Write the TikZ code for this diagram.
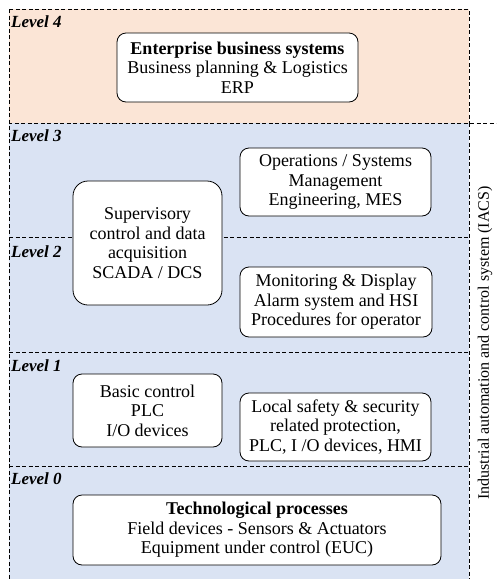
\documentclass[tikz,border=0pt]{standalone}
\usepackage{fontspec}
\setmainfont{Liberation Serif}
\usepackage{xcolor}
\usepackage{tikz}
\definecolor{lvlfour}{HTML}{FBE5D6}
\definecolor{lvlblue}{HTML}{DAE3F3}
\tikzset{
  lvlline/.style={line width=0.8pt,dash pattern=on 4pt off 2.5pt},
  sysbox/.style={draw,fill=white,line width=0.8pt,rounded corners=9pt,align=center,
    inner sep=2pt,font=\fontsize{18}{19.5}\selectfont},
  lvllabel/.style={anchor=west,inner sep=0pt,font=\fontsize{17}{19}\selectfont\bfseries\itshape}
}

\begin{document}
\begin{tikzpicture}[x=1pt,y=-1pt]
          \useasboundingbox (0,0) rectangle (496,579);
          \clip (0,0) rectangle (496,579);

            % Level 4 band
            \filldraw[fill=lvlfour,lvlline] (9,9) rectangle (469,123);
            % Levels 3 to 0
            \fill[lvlblue] (9,123) rectangle (469,585);
            \draw[lvlline] (9,585)--(9,123)--(496,123);
            \draw[lvlline] (469,123)--(469,585);

            % dividers between levels
            \foreach \y in {237.5,352.5,466.5}
              \draw[lvlline] (9,\y)--(469,\y);

          % Add labels
          \node[lvllabel] (lfour) at (11,22) {Level 4};
          \node[lvllabel] (lthree) at (11,136) {Level 3};
          \node[lvllabel] (ltwo) at (11,252) {Level 2};
          \node[lvllabel] (lone) at (11,366) {Level 1};
          \node[lvllabel] (lzero) at (11,479) {Level 0};

          % boxes
          \node[sysbox,minimum width=241pt,minimum height=69pt] (ent) at (237.5,67.5)
              {\textbf{Enterprise business systems}\\Business planning \& Logistics\\ERP};
          \node[sysbox,minimum width=191pt,minimum height=68pt] (ops) at (335.5,182)
              {Operations / Systems\\Management\\Engineering, MES};
          \node[sysbox,rounded corners=15pt,minimum width=149pt,minimum height=124pt] (scada) at (147.5,243)
              {Supervisory\\control and data\\acquisition\\SCADA / DCS};
          \node[sysbox,minimum width=192pt,minimum height=70pt] (mon) at (336,302)
              {Monitoring \& Display\\Alarm system and HSI\\Procedures for operator};
          \node[sysbox,minimum width=149pt,minimum height=73pt] (basic) at (147.5,410.5)
              {Basic control\\PLC\\I/O devices};
          \node[sysbox,minimum width=191pt,minimum height=68pt] (safety) at (335.5,427)
              {Local safety \& security\\related protection,\\PLC, I /O devices, HMI};
          \node[sysbox,minimum width=368pt,minimum height=70pt] (tech) at (257,530)
              {\textbf{Technological processes}\\Field devices - Sensors \& Actuators\\Equipment under control (EUC)};

          % side label
          \node[rotate=90,inner sep=0pt,font=\fontsize{16}{19}\selectfont] (iacs) at (485,343)
              {Industrial automation and control system (IACS)};
\end{tikzpicture}
\end{document}
